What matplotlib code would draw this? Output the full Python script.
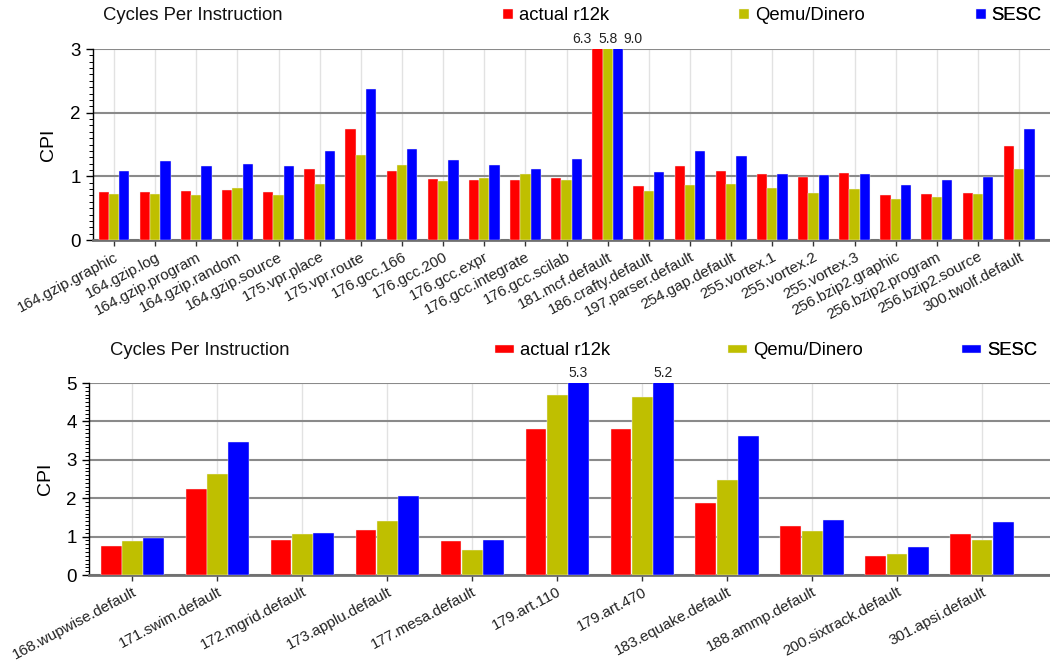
import numpy as np
import matplotlib
matplotlib.use('Agg')
from matplotlib import pyplot as plt
from matplotlib.ticker import MultipleLocator

plt.rcParams['font.family'] = ['Liberation Sans', 'DejaVu Sans']

series = ['actual r12k', 'Qemu/Dinero', 'SESC']
colors = ['#ff0000', '#bfbf00', '#0000ff']

# integer benchmarks
int_names = ['164.gzip.graphic', '164.gzip.log', '164.gzip.program', '164.gzip.random',
             '164.gzip.source', '175.vpr.place', '175.vpr.route', '176.gcc.166',
             '176.gcc.200', '176.gcc.expr', '176.gcc.integrate', '176.gcc.scilab',
             '181.mcf.default', '186.crafty.default', '197.parser.default',
             '254.gap.default', '255.vortex.1', '255.vortex.2', '255.vortex.3',
             '256.bzip2.graphic', '256.bzip2.program', '256.bzip2.source',
             '300.twolf.default']
int_r12k = [0.75, 0.76, 0.77, 0.785, 0.75, 1.115, 1.74, 1.09, 0.96, 0.95, 0.94, 0.98,
            6.3, 0.85, 1.17, 1.08, 1.04, 0.99, 1.05, 0.70, 0.73, 0.74, 1.47]
int_qemu = [0.72, 0.73, 0.71, 0.81, 0.71, 0.88, 1.34, 1.18, 0.93, 0.98, 1.04, 0.94,
            5.8, 0.77, 0.86, 0.88, 0.82, 0.74, 0.80, 0.65, 0.675, 0.73, 1.11]
int_sesc = [1.08, 1.24, 1.17, 1.19, 1.17, 1.40, 2.37, 1.43, 1.25, 1.18, 1.12, 1.27,
            9.0, 1.07, 1.40, 1.32, 1.04, 1.02, 1.04, 0.86, 0.94, 0.99, 1.74]

# floating point benchmarks
fp_names = ['168.wupwise.default', '171.swim.default', '172.mgrid.default',
            '173.applu.default', '177.mesa.default', '179.art.110', '179.art.470',
            '183.equake.default', '188.ammp.default', '200.sixtrack.default',
            '301.apsi.default']
fp_r12k = [0.76, 2.23, 0.90, 1.18, 0.89, 3.81, 3.79, 1.88, 1.28, 0.50, 1.07]
fp_qemu = [0.89, 2.64, 1.07, 1.40, 0.65, 4.70, 4.64, 2.48, 1.15, 0.55, 0.90]
fp_sesc = [0.97, 3.47, 1.09, 2.06, 0.91, 5.3, 5.2, 3.63, 1.43, 0.73, 1.38]


def cpi_chart(ax, names, data, ymax, xright, legend_x, legend_y, title_x, hlen, hh, bw):
    x = np.arange(len(names))
    handles = []
    for i, vals in enumerate(data):
        b = ax.bar(x + (i - 1) * 0.25, vals, bw, color=colors[i],
                   edgecolor='#f4f4f4', linewidth=0.3, zorder=3)
        handles.append(b)
    # values that go off the top get written above the axes
    for j in range(len(names)):
        over = [i for i in range(3) if data[i][j] > ymax]
        for k, i in enumerate(over):
            if len(over) > 1:
                xp, dx = x[j], (k - (len(over) - 1) / 2) * 18.5
            else:
                xp, dx = x[j] + (i - 1) * 0.25, 0
            ax.annotate('%.1f' % data[i][j], (xp, ymax), xytext=(dx, 7.3),
                        textcoords='offset points', ha='center', va='center',
                        fontsize=10, color='#222222', annotation_clip=False)
    ax.set_xlim(-0.51, xright)
    ax.set_ylim(0, ymax)
    ax.set_xticks(x)
    ax.set_xticklabels(names, rotation=28, ha='right', va='top',
                       rotation_mode='anchor', fontsize=11, color='#222222')
    ax.yaxis.set_major_locator(MultipleLocator(1))
    ax.yaxis.set_minor_locator(MultipleLocator(0.1))
    ax.tick_params(axis='y', which='major', length=5, width=1, labelsize=13.5, pad=4)
    ax.tick_params(axis='y', which='minor', length=3, width=0.7)
    ax.tick_params(axis='x', length=4, width=1, color='#333333', pad=3)
    ax.yaxis.grid(True, color='#8a8a8a', linewidth=1.5)
    ax.xaxis.grid(True, color='#e2e2e2', linewidth=1)
    ax.set_axisbelow(True)
    for s in ['top', 'right']:
        ax.spines[s].set_visible(False)
    ax.spines['bottom'].set_color('#707070')
    ax.spines['bottom'].set_linewidth(2)
    ax.spines['left'].set_linewidth(1)
    ax.set_ylabel('CPI', fontsize=14)
    ax.yaxis.set_label_coords(-0.038, 0.5)
    fig.text(title_x, legend_y, 'Cycles Per Instruction', fontsize=13.3,
             ha='left', va='center', color='#111111')
    for i in range(3):
        leg = ax.legend([handles[i]], [series[i]], loc='center left',
                        bbox_to_anchor=(legend_x[i], legend_y), bbox_transform=fig.transFigure,
                        frameon=False, fontsize=13.3, borderpad=0, borderaxespad=0,
                        handlelength=hlen, handleheight=hh, handletextpad=0.3)
        ax.add_artist(leg)


fig = plt.figure(figsize=(10.5, 6.66), dpi=100)
ax1 = fig.add_axes([0.0886, 0.6396, 0.9114, 0.2868])
ax2 = fig.add_axes([0.0848, 0.1366, 0.9152, 0.2883])

cpi_chart(ax1, int_names, [int_r12k, int_qemu, int_sesc], 3, 22.75,
          [503 / 1050, 739 / 1050, 976 / 1050], 1 - 16 / 666, 103 / 1050, 0.55, 0.4, 0.25)
cpi_chart(ax2, fp_names, [fp_r12k, fp_qemu, fp_sesc], 5, 10.8,
          [495 / 1050, 728 / 1050, 962 / 1050], 1 - 351 / 666, 110 / 1050, 1.05, 0.33, 0.245)
ax2.yaxis.set_label_coords(-0.036, 0.5)

plt.savefig('out.png', dpi=100)
